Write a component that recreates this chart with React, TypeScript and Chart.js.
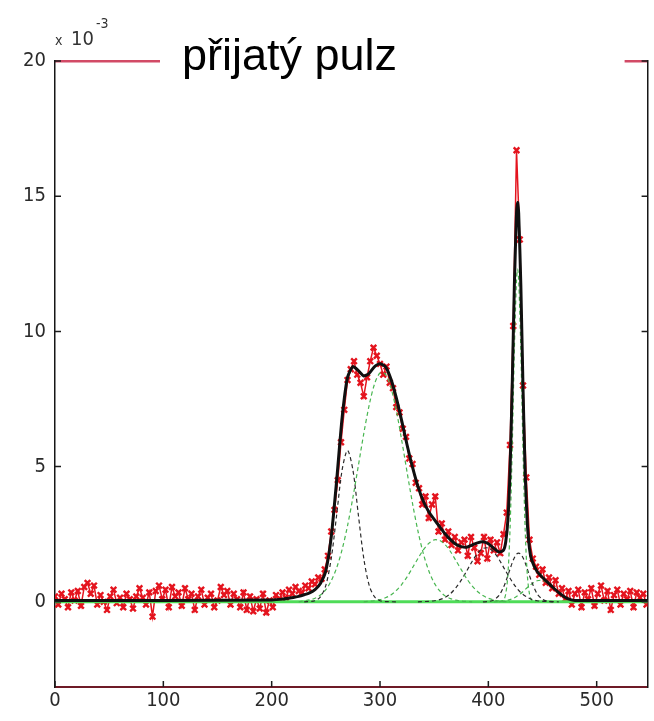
import React, { useEffect, useRef } from "react";
import { Chart, registerables } from "chart.js";

Chart.register(...registerables);

// ---- axes / labels ----
const xTickValues = [0, 100, 200, 300, 400, 500];
const yTickValues = [0, 5, 10, 15, 20];
const X_MIN = 0;
const X_MAX = 547;
const Y_MIN = -3.15;
const Y_MAX = 20;
const titleText = "přijatý pulz";
const exponentPrefix = "x";
const exponentBase = "10";
const exponentPower = "-3";

// ---- measured pulse (red markers), one sample every 3 units of x, values in 1e-3 ----
const measuredStep = 3;
const measuredY = [
  0.2, -0.1, 0.3, 0.1, -0.2, 0.35, 0.05, 0.4, -0.15, 0.55,
  0.7, 0.3, 0.6, -0.1, 0.25, 0.0, -0.3, 0.2, 0.45, -0.05,
  0.15, -0.2, 0.3, 0.1, -0.25, 0.2, 0.5, 0.15, -0.1, 0.35,
  -0.55, 0.4, 0.6, 0.1, 0.45, -0.2, 0.55, 0.2, 0.35, -0.15,
  0.5, 0.1, 0.3, -0.3, 0.2, 0.45, -0.1, 0.15, 0.3, -0.2,
  0.05, 0.55, 0.25, 0.4, -0.1, 0.3, 0.1, -0.2, 0.35, -0.3,
  0.2, -0.35, 0.1, -0.25, 0.3, -0.4, 0.05, -0.2, 0.25, 0.1,
  0.35, 0.15, 0.45, 0.3, 0.55, 0.4, 0.35, 0.6, 0.5, 0.75,
  0.65, 0.9, 0.85, 1.2, 1.7, 2.6, 3.4, 4.5, 5.9, 7.1,
  8.2, 8.6, 8.9, 8.4, 8.1, 7.6, 8.3, 8.9, 9.4, 9.1,
  8.8, 8.4, 8.7, 8.1, 7.9, 7.2, 7.0, 6.4, 6.1, 5.3,
  5.1, 4.4, 4.2, 3.6, 3.9, 3.1, 3.6, 3.9, 2.6, 2.9,
  2.3, 2.6, 2.1, 2.4, 1.9, 2.2, 2.3, 1.7, 2.4, 2.0,
  1.5, 1.8, 2.4, 1.6, 2.3, 1.9, 2.2, 1.8, 2.5, 3.3,
  5.8, 10.2, 16.7, 13.4, 8.0, 4.6, 2.3, 1.6, 1.3, 1.0,
  1.2, 0.7, 0.9, 0.5, 0.8, 0.3, 0.5, 0.1, 0.4, -0.1,
  0.3, 0.45, -0.2, 0.35, 0.1, 0.5, -0.15, 0.3, 0.6, 0.05,
  0.4, -0.3, 0.25, 0.45, -0.1, 0.3, 0.1, 0.4, -0.2, 0.35,
  0.15, 0.3, -0.1,
];

// ---- fitted total (black solid) ----
const fitX = [
  0, 100, 200, 210, 220, 225, 230, 235, 240, 245, 250, 255, 260, 265, 270, 275, 280, 285, 290, 295,
  300, 305, 310, 315, 320, 325, 330, 335, 340, 345, 350, 355, 360, 365, 370, 375, 380, 385, 390, 395,
  400, 405, 410, 414, 416, 418, 420, 422, 424, 426, 427, 428, 430, 432, 434, 436, 438, 440, 445, 450,
  455, 460, 465, 470, 475, 480, 547,
];
const fitY = [
  0.05, 0.05, 0.07, 0.1, 0.16, 0.2, 0.26, 0.33, 0.45, 0.68, 1.15, 2.4, 4.5, 6.8, 8.3, 8.7, 8.55, 8.35, 8.45, 8.7,
  8.8, 8.7, 8.25, 7.55, 6.7, 5.8, 4.98, 4.27, 3.72, 3.33, 3.05, 2.78, 2.52, 2.3, 2.13, 2.04, 2.02, 2.1, 2.18, 2.22,
  2.15, 1.98, 1.84, 1.91, 2.2, 3.01, 4.82, 7.92, 11.68, 14.36, 14.77, 14.38, 11.7, 7.91, 4.75, 2.87, 1.96, 1.55, 1.12, 0.9,
  0.71, 0.52, 0.34, 0.19, 0.09, 0.05, 0.05,
];

// ---- fitted components (dashed) ----
const comp1X = [230, 240, 245, 250, 255, 260, 265, 270, 275, 280, 285, 290, 295, 300, 305, 315];
const comp1Y = [0, 0.04, 0.18, 0.61, 1.61, 3.22, 4.87, 5.6, 4.87, 3.22, 1.61, 0.61, 0.18, 0.04, 0.01, 0];

const comp2X = [225, 235, 240, 245, 250, 255, 260, 265, 270, 275, 280, 285, 290, 295, 300, 305, 310, 315, 320, 325, 330, 335, 340, 345, 350, 355, 360, 365, 370, 375, 385];
const comp2Y = [0, 0.07, 0.13, 0.25, 0.45, 0.78, 1.26, 1.93, 2.81, 3.86, 5.03, 6.22, 7.27, 8.06, 8.46, 8.42, 7.93, 7.08, 5.98, 4.79, 3.64, 2.62, 1.78, 1.15, 0.7, 0.41, 0.22, 0.12, 0.06, 0.03, 0];

const comp3X = [285, 295, 300, 305, 310, 315, 320, 325, 330, 335, 340, 345, 350, 355, 360, 365, 370, 375, 380, 385, 390, 395, 400, 405, 410, 420];
const comp3Y = [0, 0.04, 0.08, 0.15, 0.25, 0.42, 0.64, 0.92, 1.26, 1.6, 1.92, 2.16, 2.29, 2.27, 2.12, 1.86, 1.53, 1.19, 0.86, 0.59, 0.38, 0.23, 0.13, 0.07, 0.03, 0];

const comp4X = [335, 345, 350, 355, 360, 365, 370, 375, 380, 385, 390, 395, 400, 405, 410, 415, 420, 425, 430, 435, 440, 445, 450, 460];
const comp4Y = [0, 0.02, 0.04, 0.08, 0.16, 0.3, 0.52, 0.8, 1.14, 1.49, 1.79, 1.97, 1.99, 1.84, 1.56, 1.21, 0.87, 0.57, 0.34, 0.19, 0.09, 0.04, 0.02, 0];

const comp5X = [410, 414, 416, 418, 420, 422, 424, 426, 427, 428, 430, 432, 434, 436, 438, 440, 444];
const comp5Y = [0, 0.06, 0.28, 0.98, 2.66, 5.63, 9.29, 11.92, 12.3, 11.92, 9.29, 5.63, 2.66, 0.98, 0.28, 0.06, 0];

const comp6X = [395, 400, 405, 410, 414, 416, 418, 420, 422, 424, 426, 428, 430, 432, 434, 436, 438, 440, 445, 450, 455, 465];
const comp6Y = [0, 0.01, 0.07, 0.24, 0.54, 0.74, 0.97, 1.21, 1.44, 1.63, 1.76, 1.8, 1.76, 1.63, 1.44, 1.21, 0.97, 0.74, 0.3, 0.09, 0.02, 0];

const comp7X = [405, 415, 420, 425, 430, 435, 440, 445, 450, 455, 460, 465, 470, 475, 480, 485, 495];
const comp7Y = [0, 0.03, 0.08, 0.17, 0.31, 0.49, 0.66, 0.78, 0.79, 0.69, 0.52, 0.34, 0.19, 0.09, 0.04, 0.02, 0];

const baselineX = [0, 547];
const baselineY = [0, 0];

// ---- styling ----
const RED = "#e4141e";
const GREEN = "#4fdc58";
const GREEN_DASH = "#48b650";
const BLACK_DASH = "#2a2a2a";
const TICK_FONT = "'Liberation Sans Narrow', 'DejaVu Sans Condensed', 'Liberation Sans', Arial, sans-serif";

const pts = (xs: number[], ys: number[]) => xs.map((x, i) => ({ x, y: ys[i] }));

const overlayPlugin = {
  id: "overlayPlugin",
  afterDraw(chart: any) {
    const { ctx, chartArea: a, scales } = chart;
    const xs = scales.x;
    const ys = scales.y;
    ctx.save();
    // inward tick marks (MATLAB style)
    ctx.strokeStyle = "#1c1c1c";
    ctx.lineWidth = 1.5;
    ctx.beginPath();
    xTickValues.forEach((v) => {
      const p = xs.getPixelForValue(v);
      ctx.moveTo(p, a.bottom);
      ctx.lineTo(p, a.bottom - 6);
    });
    yTickValues.forEach((v) => {
      const p = ys.getPixelForValue(v);
      ctx.moveTo(a.left, p);
      ctx.lineTo(a.left + 6, p);
      ctx.moveTo(a.right, p);
      ctx.lineTo(a.right - 6, p);
    });
    ctx.stroke();

    // title on a white box that covers the top frame
    ctx.fillStyle = "#ffffff";
    ctx.fillRect(a.left + 105, a.top - 29, a.right - a.left - 128, 62);
    ctx.fillStyle = "#000000";
    ctx.font = "45px 'Liberation Sans', Arial, sans-serif";
    ctx.textBaseline = "alphabetic";
    ctx.textAlign = "left";
    ctx.fillText(titleText, a.left + 127, a.top + 9);

    // exponent label  x 10^-3
    ctx.fillStyle = "#333333";
    ctx.font = `14px ${TICK_FONT}`;
    ctx.fillText(exponentPrefix, a.left, a.top - 16);
    ctx.font = `20px ${TICK_FONT}`;
    ctx.fillText(exponentBase, a.left + 16, a.top - 16);
    ctx.font = `14px ${TICK_FONT}`;
    ctx.fillText(exponentPower, a.left + 41, a.top - 33);
    ctx.restore();
  },
};

export default function App() {
  const canvasRef = useRef<HTMLCanvasElement | null>(null);

  useEffect(() => {
    const canvas = canvasRef.current;
    if (!canvas) return;

    const dashed = (xs: number[], ys: number[], color: string) => ({
      type: "line" as const,
      data: pts(xs, ys),
      borderColor: color,
      borderWidth: 1.2,
      borderDash: [4, 3],
      pointRadius: 0,
      fill: false,
      tension: 0.3,
    });

    const chart = new Chart(canvas, {
      type: "line",
      data: {
        datasets: [
          {
            label: "fit",
            data: pts(fitX, fitY),
            borderColor: "#101010",
            borderWidth: 3,
            pointRadius: 0,
            fill: false,
            tension: 0.2,
          },
          dashed(comp1X, comp1Y, BLACK_DASH),
          dashed(comp2X, comp2Y, GREEN_DASH),
          dashed(comp3X, comp3Y, GREEN_DASH),
          dashed(comp4X, comp4Y, BLACK_DASH),
          dashed(comp5X, comp5Y, GREEN_DASH),
          dashed(comp6X, comp6Y, BLACK_DASH),
          dashed(comp7X, comp7Y, GREEN_DASH),
          {
            label: "baseline",
            data: pts(baselineX, baselineY),
            borderColor: GREEN,
            borderWidth: 3,
            pointRadius: 0,
            fill: false,
          },
          {
            label: "measured",
            data: measuredY.map((y, i) => ({ x: i * measuredStep, y })),
            showLine: true,
            borderWidth: 1.5,
            borderColor: RED,
            pointStyle: "crossRot",
            pointRadius: 4,
            pointBorderWidth: 2.4,
            pointBorderColor: RED,
            pointBackgroundColor: RED,
            fill: false,
          },
        ] as any,
      },
      options: {
        responsive: false,
        animation: false,
        devicePixelRatio: 1,
        layout: { padding: 0 },
        plugins: {
          legend: { display: false },
          tooltip: { enabled: false },
          title: { display: false },
        },
        events: [],
        scales: {
          x: {
            type: "linear",
            position: "bottom",
            min: X_MIN,
            max: X_MAX,
            afterBuildTicks: (s: any) => {
              s.ticks = xTickValues.map((value) => ({ value }));
            },
            afterFit: (s: any) => {
              s.height = 34;
            },
            ticks: {
              font: { family: TICK_FONT, size: 20 },
              color: "#2a2a2a",
              padding: 2,
              maxRotation: 0,
              autoSkip: false,
            },
            grid: { display: false, drawTicks: false },
            border: { display: true, color: "#6e1a26", width: 2, dash: [3, 2] },
          },
          x2: {
            type: "linear",
            position: "top",
            min: X_MIN,
            max: X_MAX,
            display: true,
            afterFit: (s: any) => {
              s.height = 61;
            },
            ticks: { display: false },
            grid: { display: false, drawTicks: false },
            border: { display: true, color: "#d24a66", width: 2.5, dash: [2, 1] },
          },
          y: {
            type: "linear",
            position: "left",
            min: Y_MIN,
            max: Y_MAX,
            afterBuildTicks: (s: any) => {
              s.ticks = yTickValues.map((value) => ({ value }));
            },
            afterFit: (s: any) => {
              s.width = 55;
            },
            ticks: {
              font: { family: TICK_FONT, size: 20 },
              color: "#2a2a2a",
              padding: 9,
            },
            grid: { display: false, drawTicks: false },
            border: { display: true, color: "#161616", width: 1.5 },
          },
          y2: {
            type: "linear",
            position: "right",
            min: Y_MIN,
            max: Y_MAX,
            display: true,
            afterFit: (s: any) => {
              s.width = 3;
            },
            ticks: { display: false },
            grid: { display: false, drawTicks: false },
            border: { display: true, color: "#161616", width: 1.5 },
          },
        },
      } as any,
      plugins: [overlayPlugin],
    });

    return () => {
      chart.destroy();
    };
  }, []);

  return (
    <div style={{ position: "fixed", left: 0, top: 0, width: 654, height: 721, background: "#ffffff" }}>
      <canvas ref={canvasRef} width={654} height={721} style={{ display: "block", width: 654, height: 721 }} />
    </div>
  );
}
